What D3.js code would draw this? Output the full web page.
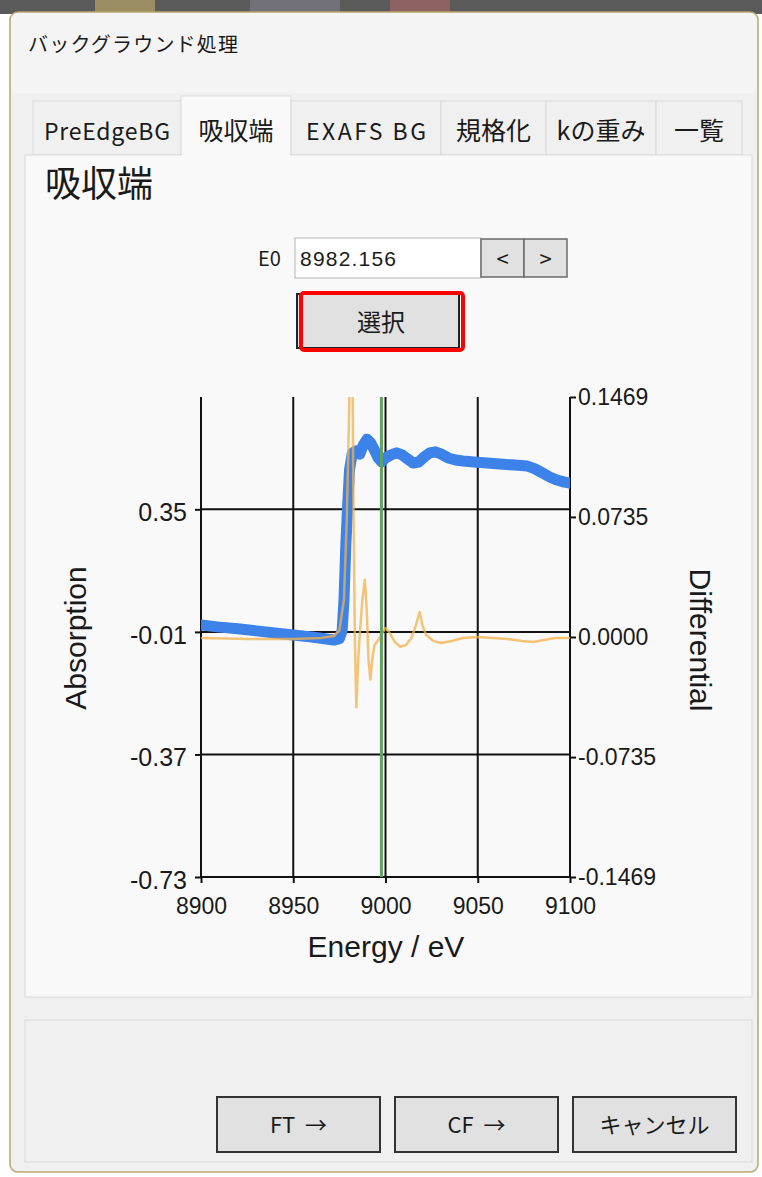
<!DOCTYPE html>
<html>
<head>
<meta charset="utf-8">
<script src="https://cdn.jsdelivr.net/npm/d3@7"></script>
<style>
  body { margin: 0; background: #ffffff; }
  svg { display: block; }
  .ui { font-family: "Noto Sans CJK JP", sans-serif; fill: #1a1a1a; }
  .chart text { font-family: "Liberation Sans", Arial, sans-serif; fill: #1a1a1a; }
</style>
</head>
<body>
<div id="app"></div>
<script>
// ---- data ----
const energyTicks = [8900, 8950, 9000, 9050, 9100];
const absTicks = [-0.73, -0.37, -0.01, 0.35];
const absTickLabels = ["-0.73", "-0.37", "-0.01", "0.35"];
const diffTicks = [-0.1469, -0.0735, 0, 0.0735, 0.1469];
const diffTickLabels = ["-0.1469", "-0.0735", "0.0000", "0.0735", "0.1469"];

const absEnergy = [8900, 8910, 8920, 8930, 8940, 8950, 8960, 8968, 8972, 8975, 8976.5, 8977.5,
  8978.5, 8979.5, 8980.5, 8982, 8984, 8986, 8988, 8990, 8992, 8994, 8996, 8998, 9000, 9003,
  9006, 9009, 9012, 9015, 9018, 9021, 9024, 9027, 9030, 9034, 9038, 9042, 9048, 9055, 9062,
  9070, 9077, 9081, 9085, 9089, 9093, 9097, 9100];
const absorption = [0.010, 0.004, -0.001, -0.007, -0.013, -0.019, -0.025, -0.031, -0.034, -0.030,
  -0.006, 0.084, 0.245, 0.363, 0.466, 0.515, 0.522, 0.512, 0.539, 0.556, 0.545, 0.524, 0.501,
  0.489, 0.501, 0.510, 0.516, 0.510, 0.498, 0.486, 0.489, 0.504, 0.516, 0.519, 0.513, 0.501,
  0.495, 0.492, 0.489, 0.486, 0.483, 0.480, 0.477, 0.469, 0.457, 0.445, 0.436, 0.430, 0.427];

const diffEnergy = [8900, 8925, 8950, 8965, 8972, 8975, 8977.5, 8979, 8980.2, 8981.2, 8981.9,
  8982.6, 8983.4, 8984.2, 8985.2, 8986.2, 8987.5, 8988.8, 8989.8, 8990.8, 8991.8, 8992.8, 8994,
  8996, 8998, 9000, 9002, 9005, 9008, 9011, 9014, 9016, 9018.5, 9020, 9022, 9026, 9030, 9036,
  9042, 9050, 9058, 9066, 9074, 9080, 9086, 9092, 9100];
const differential = [-0.0006, -0.0012, -0.0012, -0.0006, 0.0006, 0.004, 0.023, 0.072, 0.133,
  0.20, 0.20, 0.084, -0.002, -0.043, -0.014, 0.004, 0.023, 0.035, 0.017, -0.014, -0.026, -0.014,
  -0.005, -0.002, 0.002, 0.0055, 0.003, -0.003, -0.006, -0.005, -0.0006, 0.0055, 0.0153, 0.0073,
  0.0012, -0.0024, -0.0037, -0.0024, -0.0006, 0, -0.0006, -0.0012, -0.0024, -0.003, -0.0018,
  -0.0006, -0.0006];

const selectedEnergy = 8997.8;

const tabs = ["PreEdgeBG", "吸収端", "EXAFS BG", "規格化", "kの重み", "一覧"];
const tabTextWidth = [126, null, 120, null, null, null];
const footerButtons = ["FT →", "CF →", "キャンセル"];

// ---- dialog ----
const W = 762, H = 1177;
const svg = d3.select("#app").append("svg").attr("width", W).attr("height", H);

svg.append("rect").attr("x", 0).attr("y", 0).attr("width", W).attr("height", 14).attr("fill", "#5a5a5a");
[[95, 60, "#d9c06a"], [250, 90, "#8a8598"], [390, 60, "#c26a6a"]].forEach(([bx, w, c]) => {
  svg.append("rect").attr("x", bx).attr("y", 0).attr("width", w).attr("height", 12).attr("fill", c).attr("opacity", 0.5);
});

svg.append("rect").attr("x", 10).attr("y", 12).attr("width", 748).attr("height", 1160)
  .attr("rx", 8).attr("fill", "#f0f0f0").attr("stroke", "#b8a66e").attr("stroke-width", 1.5);
svg.append("rect").attr("x", 11).attr("y", 13).attr("width", 746).attr("height", 80)
  .attr("rx", 7).attr("fill", "#f4f4f4");

const ui = svg.append("g").attr("class", "ui");
ui.append("text").attr("x", 28).attr("y", 52).attr("font-size", 20)
  .attr("textLength", 210).text("バックグラウンド処理");

// tab strip
const tabEdges = [33, 181, 291, 441, 546, 656, 742];
tabs.forEach((t, i) => {
  const sel = i === 1;
  const x0 = tabEdges[i], x1 = tabEdges[i + 1];
  ui.append("rect").attr("x", x0).attr("y", sel ? 96 : 101)
    .attr("width", x1 - x0).attr("height", sel ? 62 : 54)
    .attr("fill", sel ? "#f9f9f9" : "#f0f0f0").attr("stroke", "#d9d9d9");
});
// page panel
ui.append("rect").attr("x", 25).attr("y", 155).attr("width", 727).attr("height", 842)
  .attr("fill", "#f9f9f9").attr("stroke", "#d9d9d9");
ui.append("rect").attr("x", 182).attr("y", 150).attr("width", 108).attr("height", 8).attr("fill", "#f9f9f9");
tabs.forEach((t, i) => {
  const x0 = tabEdges[i], x1 = tabEdges[i + 1];
  const tx = ui.append("text").attr("y", 140).attr("font-size", tabTextWidth[i] ? 23 : 25).text(t);
  if (tabTextWidth[i]) {
    tx.attr("x", (x0 + x1) / 2 - tabTextWidth[i] / 2).attr("textLength", tabTextWidth[i]);
  } else {
    tx.attr("x", (x0 + x1) / 2).attr("text-anchor", "middle");
  }
});

ui.append("text").attr("x", 45).attr("y", 197).attr("font-size", 36).text("吸収端");

// E0 row
ui.append("text").attr("x", 258).attr("y", 266).attr("font-size", 20).text("E0");
ui.append("rect").attr("x", 295).attr("y", 238).attr("width", 186).attr("height", 40)
  .attr("fill", "#ffffff").attr("stroke", "#b4b4b4");
ui.append("text").attr("x", 300).attr("y", 266).attr("font-size", 21)
  .style("font-family", "'Liberation Sans', Arial, sans-serif")
  .attr("textLength", 96).text("8982.156");
[["<", 481], [">", 524]].forEach(([s, bx]) => {
  ui.append("rect").attr("x", bx).attr("y", 239).attr("width", 43).attr("height", 38)
    .attr("fill", "#e1e1e1").attr("stroke", "#6a6a6a").attr("stroke-width", 1.5);
  ui.append("text").attr("x", bx + 21.5).attr("y", 267).attr("text-anchor", "middle")
    .attr("font-size", 22).text(s);
});

// 選択 button
ui.append("rect").attr("x", 297).attr("y", 294).attr("width", 162).attr("height", 54)
  .attr("fill", "#e1e1e1").attr("stroke", "#222").attr("stroke-width", 2);
ui.append("rect").attr("x", 301).attr("y", 293).attr("width", 162).attr("height", 57).attr("rx", 3)
  .attr("fill", "none").attr("stroke", "#ff0000").attr("stroke-width", 4);
ui.append("text").attr("x", 381).attr("y", 331).attr("text-anchor", "middle")
  .attr("font-size", 24).text("選択");

// footer
ui.append("rect").attr("x", 25).attr("y", 1020).attr("width", 727).attr("height", 142)
  .attr("fill", "#f0f0f0").attr("stroke", "#d9d9d9");
const btnX = [217, 395, 573];
footerButtons.forEach((b, i) => {
  ui.append("rect").attr("x", btnX[i]).attr("y", 1097).attr("width", 163).attr("height", 55)
    .attr("fill", "#e1e1e1").attr("stroke", "#333").attr("stroke-width", 2);
  ui.append("text").attr("x", btnX[i] + 81.5).attr("y", 1133).attr("text-anchor", "middle")
    .attr("font-size", 22).attr("xml:space", "preserve").text(b.replace(" ", "  "));
});

// ---- chart ----
const pLeft = 201, pRight = 570, pTop = 397, pBottom = 877;
const x = d3.scaleLinear().domain([8900, 9100]).range([pLeft, pRight]);
const yAbs = d3.scaleLinear().domain([-0.73, 0.68]).range([pBottom, pTop]);
const yDiff = d3.scaleLinear().domain([-0.1469, 0.1469]).range([pBottom, pTop]);

const chart = svg.append("g").attr("class", "chart");
chart.append("clipPath").attr("id", "plot")
  .append("rect").attr("x", pLeft).attr("y", pTop).attr("width", pRight - pLeft).attr("height", pBottom - pTop);

// grid
chart.append("g").selectAll("line").data(energyTicks).join("line")
  .attr("x1", d => x(d)).attr("x2", d => x(d)).attr("y1", pTop).attr("y2", pBottom)
  .attr("stroke", "#111").attr("stroke-width", 2);
chart.append("g").selectAll("line").data(absTicks).join("line")
  .attr("x1", pLeft).attr("x2", pRight).attr("y1", d => yAbs(d)).attr("y2", d => yAbs(d))
  .attr("stroke", "#111").attr("stroke-width", 2);

const xAxis = chart.append("g").attr("transform", `translate(0,${pBottom})`)
  .call(d3.axisBottom(x).tickValues(energyTicks).tickSize(6).tickPadding(15).tickFormat(d3.format("d")));
const leftAxis = chart.append("g").attr("transform", `translate(${pLeft},0)`)
  .call(d3.axisLeft(yAbs).tickValues(absTicks).tickSize(6).tickPadding(8)
    .tickFormat((d, i) => absTickLabels[i]));
const rightAxis = chart.append("g").attr("transform", `translate(${pRight},0)`)
  .call(d3.axisRight(yDiff).tickValues(diffTicks).tickSize(6).tickPadding(2)
    .tickFormat((d, i) => diffTickLabels[i]));
[xAxis, leftAxis, rightAxis].forEach(a => {
  a.select(".domain").remove();
  a.selectAll(".tick line").attr("stroke", "#111").attr("stroke-width", 2);
  a.selectAll("text").attr("font-size", 23).attr("fill", "#222");
});
leftAxis.selectAll("text").attr("font-size", 25).attr("dy", "0.45em");
chart.append("line").attr("x1", pLeft).attr("x2", pLeft).attr("y1", pTop).attr("y2", pBottom)
  .attr("stroke", "#111").attr("stroke-width", 2);
chart.append("line").attr("x1", pRight).attr("x2", pRight).attr("y1", pTop).attr("y2", pBottom)
  .attr("stroke", "#111").attr("stroke-width", 2);

const plot = chart.append("g").attr("clip-path", "url(#plot)");
const absLine = d3.line().x((d, i) => x(absEnergy[i])).y(d => yAbs(d));
plot.append("path").datum(absorption).attr("d", absLine)
  .attr("fill", "none").attr("stroke", "#3c82e8").attr("stroke-width", 11)
  .attr("stroke-linejoin", "round").attr("stroke-linecap", "round");

const diffLine = d3.line().x((d, i) => x(diffEnergy[i])).y(d => yDiff(d));
plot.append("path").datum(differential).attr("d", diffLine)
  .attr("fill", "none").attr("stroke", "#f3b04a").attr("stroke-width", 2.5)
  .attr("stroke-opacity", 0.75).attr("stroke-linejoin", "round");

plot.append("line").attr("x1", x(selectedEnergy)).attr("x2", x(selectedEnergy))
  .attr("y1", pTop).attr("y2", pBottom).attr("stroke", "#5fa35f").attr("stroke-width", 3);

chart.append("text").attr("transform", "translate(86,638) rotate(-90)")
  .attr("text-anchor", "middle").attr("font-size", 30).text("Absorption");
chart.append("text").attr("transform", "translate(690,640) rotate(90)")
  .attr("text-anchor", "middle").attr("font-size", 30).text("Differential");
chart.append("text").attr("x", 386).attr("y", 957)
  .attr("text-anchor", "middle").attr("font-size", 30).text("Energy / eV");
</script>
</body>
</html>
